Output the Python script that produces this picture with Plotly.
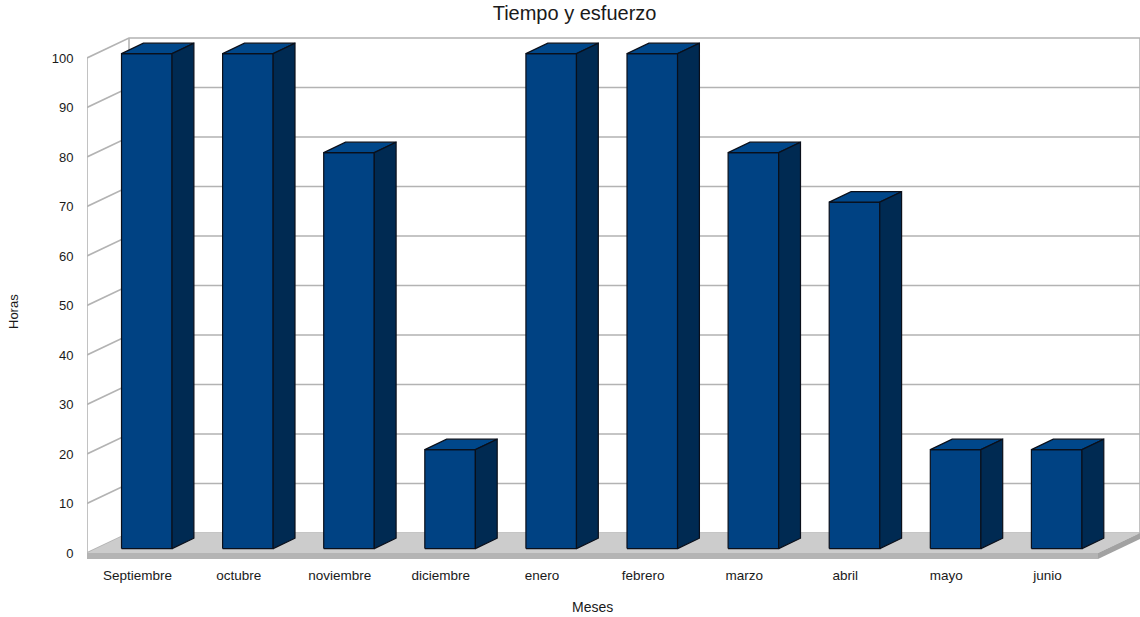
import plotly.graph_objects as go

# --- data -------------------------------------------------------------
months = ["Septiembre", "octubre", "noviembre", "diciembre", "enero",
          "febrero", "marzo", "abril", "mayo", "junio"]
hours = [100, 100, 80, 20, 100, 100, 80, 70, 20, 20]
y_ticks = list(range(0, 101, 10))

# --- pseudo-3D geometry (in axis units) -------------------------------
PX_X = 101.1          # pixels per category
PX_Y = 4.95           # pixels per hour
DX = 42 / PX_X        # full depth of the box, horizontal component
DY = 20 / PX_Y        # full depth of the box, vertical component
BAR_FRONT = 0.22      # depth fraction where the bar front face sits
BAR_BACK = 0.74       # depth fraction of the bar back face
HALF_W = 0.25         # half bar width in category units
FLOOR_T = 6 / PX_Y    # floor slab thickness

X0, X1 = -0.5, len(months) - 0.5

FRONT = "#004283"
TOP = "#00478a"
SIDE = "#002a52"
GRID = "#b3b3b3"

fig = go.Figure()


def poly(xs, ys, fill, line_color=None, width=0):
    fig.add_trace(go.Scatter(
        x=xs, y=ys, mode="lines", fill="toself", fillcolor=fill,
        line=dict(color=line_color or fill, width=width),
        hoverinfo="skip", showlegend=False))


def line(xs, ys, color=GRID, width=1.6):
    fig.add_trace(go.Scatter(
        x=xs, y=ys, mode="lines", line=dict(color=color, width=width),
        hoverinfo="skip", showlegend=False))


# walls: back-wall horizontals and side-wall diagonals at each tick
gx, gy = [], []
for v in y_ticks:
    gx += [X0, X0 + DX, X1 + DX, None]
    gy += [v, v + DY, v + DY, None]
# wall edges
for xa, ya in [(X0, 0), (X0 + DX, DY), (X1 + DX, DY)]:
    gx += [xa, xa, None]
    gy += [ya, ya + y_ticks[-1], None]
line(gx, gy)

# floor slab
poly([X0, X1, X1 + DX, X0 + DX, X0], [0, 0, DY, DY, 0], "#cccccc")
poly([X0, X1, X1, X0, X0], [0, 0, -FLOOR_T, -FLOOR_T, 0], "#b4b4b4")
poly([X1, X1 + DX, X1 + DX, X1, X1], [0, DY, DY - FLOOR_T, -FLOOR_T, 0], "#a2a2a2")

# bars
fx, fy, tx, ty, sx, sy = [], [], [], [], [], []
dxb = (BAR_BACK - BAR_FRONT) * DX
dyb = (BAR_BACK - BAR_FRONT) * DY
for i, h in enumerate(hours):
    cx = i + BAR_FRONT * DX
    base = BAR_FRONT * DY
    xl, xr = cx - HALF_W, cx + HALF_W
    yb, yt = base, base + h
    fx += [xl, xr, xr, xl, xl, None]
    fy += [yb, yb, yt, yt, yb, None]
    tx += [xl, xr, xr + dxb, xl + dxb, xl, None]
    ty += [yt, yt, yt + dyb, yt + dyb, yt, None]
    sx += [xr, xr + dxb, xr + dxb, xr, xr, None]
    sy += [yb, yb + dyb, yt + dyb, yt, yb, None]
poly(fx, fy, FRONT, "#0a0f1a", 1.2)
poly(tx, ty, TOP, "#0a0f1a", 1.2)
poly(sx, sy, SIDE, "#0a0f1a", 1.2)

# --- layout -----------------------------------------------------------
W, H = 1140, 617
ML, MR, MT, MB = 87, 0, 30, 52
plot_w = W - ML - MR
plot_h = H - MT - MB
y_zero_px = 553 - MT  # zero line, pixels from top of plot area

font = dict(family="Liberation Sans, Arial, sans-serif", color="#1a1a1a")

fig.update_layout(
    width=W, height=H,
    margin=dict(l=ML, r=MR, t=MT, b=MB, autoexpand=False),
    plot_bgcolor="white", paper_bgcolor="white",
    font=dict(**font, size=13),
    title=dict(text="Tiempo y esfuerzo", x=0.504, xanchor="center",
               y=1 - 13 / H, yanchor="middle", font=dict(**font, size=20)),
    xaxis=dict(range=[X0, X0 + plot_w / PX_X], showgrid=False, zeroline=False,
               showline=False, tickmode="array", tickvals=list(range(len(months))),
               ticktext=months, ticks="", tickfont=dict(size=13.5),
               fixedrange=True),
    yaxis=dict(range=[-(plot_h - y_zero_px) / PX_Y, y_zero_px / PX_Y],
               showgrid=False, zeroline=False, showline=False,
               tickmode="array", tickvals=y_ticks, ticks="outside",
               ticklen=10, tickcolor="rgba(0,0,0,0)", tickfont=dict(size=13),
               fixedrange=True),
    annotations=[
        dict(text="Horas", textangle=-90, xref="paper", yref="y",
             x=(13 - ML) / plot_w, y=(553 - 312) / PX_Y, showarrow=False,
             xanchor="center", yanchor="middle", font=dict(size=13)),
        dict(text="Meses", xref="x", yref="paper", x=(X0 + X1) / 2,
             y=-(607 - (H - MB)) / plot_h, showarrow=False,
             xanchor="center", yanchor="middle", font=dict(size=14)),
    ],
)

fig.write_html("out.html")
